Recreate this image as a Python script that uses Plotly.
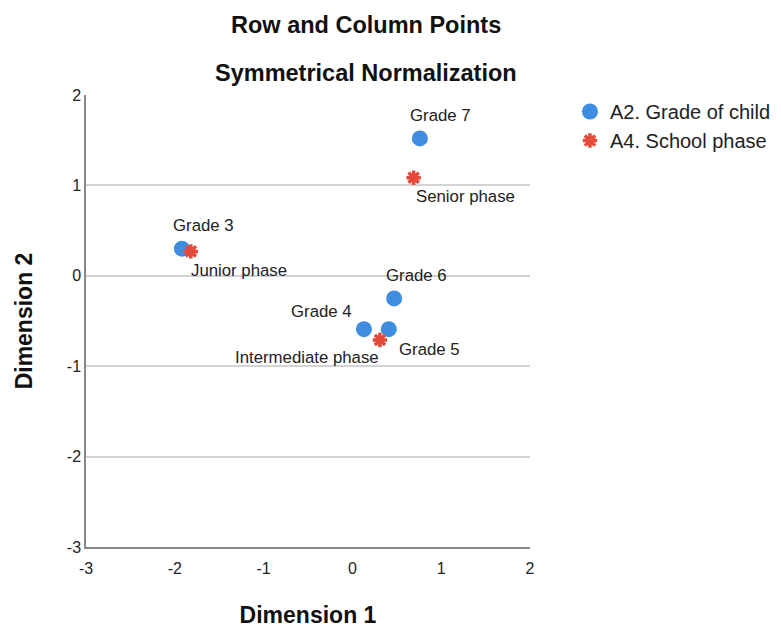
import plotly.graph_objects as go

# Data
grade_labels = ["Grade 3", "Grade 4", "Grade 5", "Grade 6", "Grade 7"]
grade_dim1 = [-1.92, 0.13, 0.41, 0.47, 0.76]
grade_dim2 = [0.30, -0.59, -0.59, -0.25, 1.52]

phase_labels = ["Junior phase", "Intermediate phase", "Senior phase"]
phase_dim1 = [-1.82, 0.31, 0.69]
phase_dim2 = [0.27, -0.71, 1.085]

x_ticks = [-3, -2, -1, 0, 1, 2]
y_ticks = [-3, -2, -1, 0, 1, 2]

BLUE = "#3f8de0"
RED = "#e5493a"
FONT = "Liberation Sans, Arial, sans-serif"

fig = go.Figure()
fig.add_trace(go.Scatter(
    x=grade_dim1, y=grade_dim2, mode="markers", name="A2. Grade of child",
    marker=dict(symbol="circle", size=16, color=BLUE, line=dict(width=0)),
))
fig.add_trace(go.Scatter(
    x=phase_dim1, y=phase_dim2, mode="markers", name="A4. School phase",
    marker=dict(symbol="asterisk", size=12, color=RED, line=dict(width=3.5, color=RED)),
))

# label offsets (pixels): (xshift, yshift, xanchor)
grade_offsets = {
    "Grade 3": (22, 23, "center"),
    "Grade 4": (-10, 18, "right"),
    "Grade 5": (8, -20, "left"),
    "Grade 6": (22, 23, "center"),
    "Grade 7": (21, 23, "center"),
}
phase_offsets = {
    "Junior phase": (-2, -19, "left"),
    "Intermediate phase": (1, -18, "right"),
    "Senior phase": (0, -19, "left"),
}
annotations = []
for lab, x, y in zip(grade_labels, grade_dim1, grade_dim2):
    dx, dy, xa = grade_offsets[lab]
    annotations.append(dict(x=x, y=y, text=lab, showarrow=False, xshift=dx, yshift=dy,
                            xanchor=xa, yanchor="middle",
                            font=dict(size=16.8, color="#222222", family=FONT)))
for lab, x, y in zip(phase_labels, phase_dim1, phase_dim2):
    dx, dy, xa = phase_offsets[lab]
    annotations.append(dict(x=x, y=y, text=lab, showarrow=False, xshift=dx, yshift=dy,
                            xanchor=xa, yanchor="middle",
                            font=dict(size=16.8, color="#222222", family=FONT)))

annotations.append(dict(xref="paper", yref="paper", x=0.63, y=1.155, text="<b>Row and Column Points</b>",
                        showarrow=False, xanchor="center", yanchor="middle",
                        font=dict(size=23.5, color="#111111", family=FONT)))
annotations.append(dict(xref="paper", yref="paper", x=0.63, y=1.0487, text="<b>Symmetrical Normalization</b>",
                        showarrow=False, xanchor="center", yanchor="middle",
                        font=dict(size=23.5, color="#111111", family=FONT)))

fig.update_layout(
    width=781, height=629,
    margin=dict(l=86, r=251, t=95, b=82, autoexpand=False),
    paper_bgcolor="white", plot_bgcolor="white",
    font=dict(family=FONT, color="#222222"),
    annotations=annotations,
    legend=dict(x=1.09, y=1.0066, xanchor="left", yanchor="top",
                font=dict(size=20, color="#222222", family=FONT),
                bgcolor="rgba(0,0,0,0)", tracegroupgap=0, itemwidth=30),
    xaxis=dict(range=[-3, 2], tickvals=x_ticks, ticktext=[str(v) for v in x_ticks],
               showgrid=False, zeroline=False, showline=True, linecolor="#888888", linewidth=1.5,
               ticks="", ticklabelstandoff=6, tickfont=dict(size=16, color="#222222"),
               title=dict(text="<b>Dimension 1</b>", font=dict(size=23, color="#111111"), standoff=31)),
    yaxis=dict(range=[-3, 2], tickvals=y_ticks, ticktext=[str(v) for v in y_ticks],
               showgrid=True, gridcolor="#d3d3d3", gridwidth=2, zeroline=False,
               showline=True, linecolor="#888888", linewidth=1.5,
               ticks="", tickfont=dict(size=16, color="#222222"),
               title=dict(text="<b>Dimension 2</b>", font=dict(size=23, color="#111111"), standoff=28)),
)

fig.write_html("out.html")
